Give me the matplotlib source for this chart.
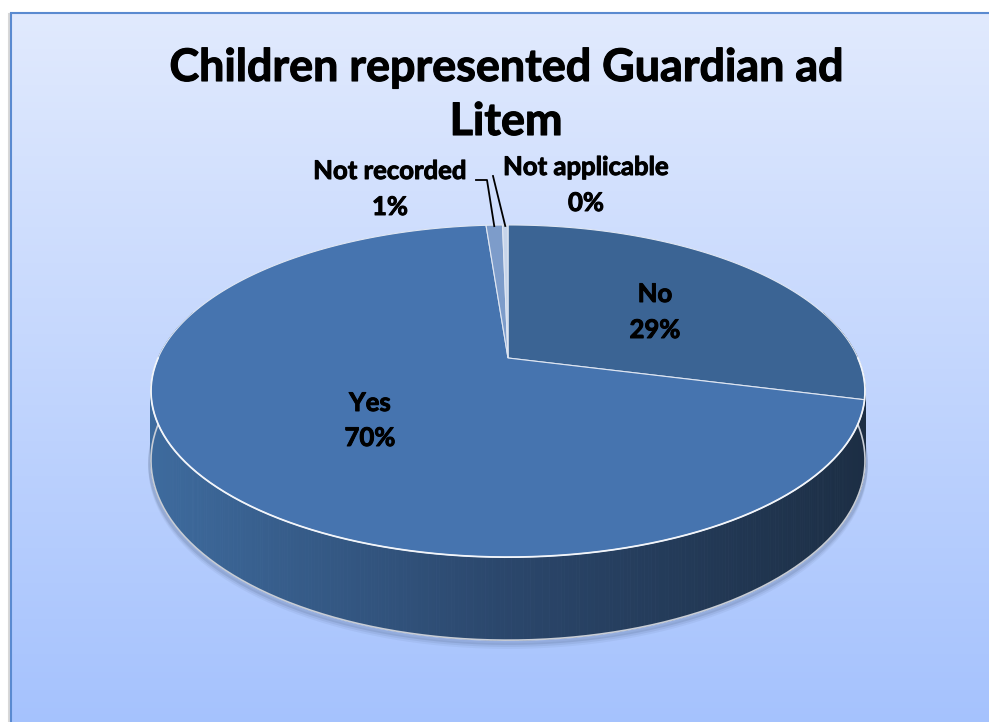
import numpy as np
import matplotlib
matplotlib.use("Agg")
import matplotlib.pyplot as plt
from matplotlib.patches import Polygon
from matplotlib.colors import to_rgb
import matplotlib.patheffects as pe

# ---- data ----
categories = ["No", "Yes", "Not recorded", "Not applicable"]
values = [29.0, 69.8, 0.9, 0.3]
pct_labels = ["29%", "70%", "1%", "0%"]
title_lines = ["Children represented Guardian ad", "Litem"]
top_colors = ["#3b6494", "#4674af", "#7d9cca", "#c6d4ea"]

W, H = 989, 722
fig = plt.figure(figsize=(W / 100, H / 100), dpi=100)
ax = fig.add_axes([0, 0, 1, 1])
ax.axis("off")

# ---- background gradient panel ----
top_c = np.array(to_rgb("#e1eafd"))
bot_c = np.array(to_rgb("#a5c2fe"))
t = np.linspace(0, 1, 256)[:, None]
grad = (top_c[None, :] * (1 - t) + bot_c[None, :] * t)[:, None, :]
ax.imshow(grad, extent=(10, W + 20, H + 5, 12), aspect="auto", zorder=0,
          interpolation="bilinear")
# light shadow outside the left edge, then the blue frame (top & left only)
ax.plot([8.5, 8.5], [14, H + 5], color="#d8d8d8", lw=1.5, zorder=1)
ax.plot([10.5, 10.5, W + 20], [H + 5, 12.5, 12.5], color="#5a8ad0", lw=1.5,
        zorder=1, solid_joinstyle="miter")
ax.set_xlim(0, W)
ax.set_ylim(H, 0)

# ---- 3D pie geometry (simple perspective) ----
cx, cy = 508, 358
A, B, k, depth = 349.9, 159.5, 0.199, 66.5


def proj(theta, drop=0.0):
    X, Y = np.sin(theta), np.cos(theta)
    s = 1.0 / (1 + k * Y)
    return cx + A * X * s, cy - B * Y * s + drop * s


fr = np.cumsum([0] + values) / sum(values) * 2 * np.pi

# side color gradient by screen x
side_stops_x = [150, 500, 865]
side_stops_c = [np.array(to_rgb(c)) for c in ["#3e6b9e", "#2b476c", "#1c2e44"]]


def side_color(x):
    return [np.interp(x, side_stops_x, [c[i] for c in side_stops_c]) for i in range(3)]


# soft shadow under pie
th = np.linspace(np.pi / 2, 3 * np.pi / 2, 200)
for off, al in [(6, 0.05), (4, 0.07), (2, 0.1)]:
    x, y = proj(th, depth)
    ax.plot(x, y + off, color="#1a2a40", alpha=al, lw=4, zorder=2,
            solid_capstyle="round")

# side quads, far first
n = 720
angles = np.linspace(0, 2 * np.pi, n + 1)
order = np.argsort(-np.cos((angles[:-1] + angles[1:]) / 2))
for i in order:
    a0, a1 = angles[i], angles[i + 1]
    if np.cos((a0 + a1) / 2) > 0.3:
        continue
    x0, y0 = proj(a0)
    x1, y1 = proj(a1)
    x0b, y0b = proj(a0, depth)
    x1b, y1b = proj(a1, depth)
    col = side_color((x0 + x1) / 2)
    ax.add_patch(Polygon([(x0, y0), (x1, y1), (x1b, y1b), (x0b, y0b)],
                         closed=True, facecolor=col, edgecolor=col, lw=0.6,
                         zorder=3))

# bottom rim highlight
x, y = proj(th, depth)
ax.plot(x, y, color="#c8cdd6", lw=1.2, zorder=4)

# top face slices
for i in range(len(values)):
    ts = np.linspace(fr[i], fr[i + 1], max(3, int(values[i] * 6)))
    px, py = proj(ts)
    pts = [(cx, cy)] + list(zip(px, py))
    ax.add_patch(Polygon(pts, closed=True, facecolor=top_colors[i],
                         edgecolor="#dfe6f2", lw=0.8, zorder=5))

# white front edge of top face
x, y = proj(th)
ax.plot(x, y, color="#f2f5fa", lw=1.3, zorder=6)

# ---- labels ----
font = ["Lato", "DejaVu Sans"]
heavy = [pe.withStroke(linewidth=0.7, foreground="black")]
fs = 18.5
lab_pos = [(655, 294, 330), (370, 403, 438), (390, 171, 207), (586, 167, 203)]
for name, pct, (lx, ly1, ly2) in zip(categories, pct_labels, lab_pos):
    ax.text(lx, ly1, name, ha="center", va="center", fontsize=fs,
            fontweight="bold", family=font, color="black", zorder=8,
            path_effects=heavy)
    ax.text(lx, ly2, pct, ha="center", va="center", fontsize=fs,
            fontweight="bold", family=font, color="black", zorder=8,
            path_effects=heavy)

# leader lines for the thin slices
mid_nr = (fr[2] + fr[3]) / 2
mid_na = (fr[3] + fr[4]) / 2
ex, ey = proj(mid_nr)
ax.plot([476, 487, ex], [180, 180, ey + 1], color="black", lw=1.3, zorder=7)
ex, ey = proj(mid_na)
ax.plot([493, ex], [176, ey + 1], color="black", lw=1.3, zorder=7)

# ---- title ----
for line, ty in zip(title_lines, [68, 122]):
    ax.text(506, ty, line, ha="center", va="center", fontsize=32.3,
            fontweight="bold", family=font, color="black", zorder=8,
            path_effects=[pe.withStroke(linewidth=0.8, foreground="black")])

fig.savefig("out.png", dpi=100, facecolor="white")
